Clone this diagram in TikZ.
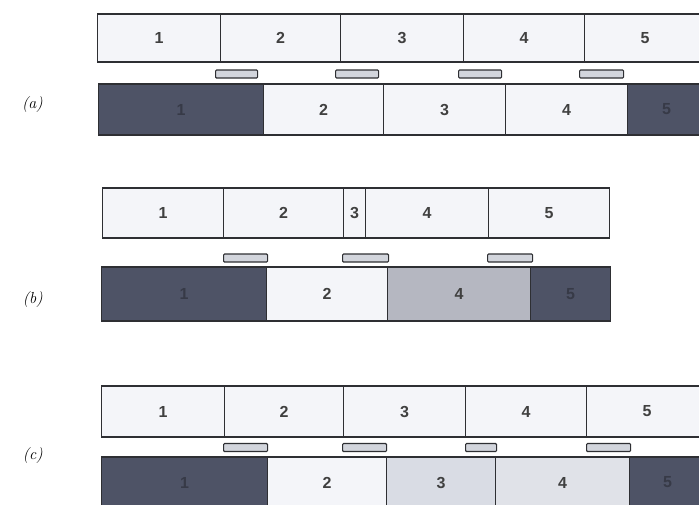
\documentclass[tikz,border=0pt]{standalone}
\usepackage{fontspec}
\usepackage{tikz}
\newfontfamily\cellfont{Liberation Sans}
\definecolor{cellline}{HTML}{2E2F33}
\definecolor{celllight}{HTML}{F4F5F9}
\definecolor{celldark}{HTML}{4E5366}
\definecolor{cellmid}{HTML}{B5B7C1}
\definecolor{cellpale}{HTML}{D9DCE4}
\definecolor{cellpaler}{HTML}{E0E2E8}
\definecolor{gapfill}{HTML}{D2D5DC}
\tikzset{
  cell/.style={draw=cellline, line width=1.2pt, fill=celllight, minimum height=50pt,
               font=\cellfont\bfseries\fontsize{16}{18}\selectfont, text=black!75,
               inner sep=0pt, anchor=west},
  darkcell/.style={cell, fill=celldark, text=celldark!70!black},
  midcell/.style={cell, fill=cellmid},
  palecell/.style={cell, fill=cellpale},
  palercell/.style={cell, fill=cellpaler},
  gapbar/.style={draw=cellline, line width=1.2pt, fill=gapfill, rounded corners=1pt,
                 minimum height=8pt, inner sep=0pt, anchor=west},
  rowlabel/.style={font=\itshape\fontsize{16}{19}\selectfont, anchor=east, inner sep=0pt},
}

\begin{document}
\begin{tikzpicture}[x=1pt, y=-1pt]
    \clip (0,0) rectangle (699,504);
    % (a)
    \node[rowlabel] (la) at (43, 105) {(a)};
    \node[cell, minimum width=123pt, minimum height=48pt] (ta1) at (97, 38) {1};
    \node[cell, minimum width=120pt, minimum height=48pt] (ta2) at (220, 38) {2};
    \node[cell, minimum width=123pt, minimum height=48pt] (ta3) at (340, 38) {3};
    \node[cell, minimum width=121pt, minimum height=48pt] (ta4) at (463, 38) {4};
    \node[cell, minimum width=121pt, minimum height=48pt] (ta5) at (584, 38) {5};
    \node[gapbar, minimum width=42pt] (ga1) at (215, 74) {};
    \node[gapbar, minimum width=43pt] (ga2) at (335, 74) {};
    \node[gapbar, minimum width=43pt] (ga3) at (458, 74) {};
    \node[gapbar, minimum width=44pt] (ga4) at (579, 74) {};
    \node[darkcell, minimum width=165pt, minimum height=51pt] (ba1) at (98, 109.5) {1};
    \node[cell, minimum width=120pt, minimum height=51pt] (ba2) at (263, 109.5) {2};
    \node[cell, minimum width=122pt, minimum height=51pt] (ba3) at (383, 109.5) {3};
    \node[cell, minimum width=122pt, minimum height=51pt] (ba4) at (505, 109.5) {4};
    \node[darkcell, minimum width=78pt, minimum height=51pt] (ba5) at (627, 109.5) {5};
    % (b)
    \node[rowlabel] (lb) at (43, 300) {(b)};
    \node[cell, minimum width=121pt] (tb1) at (102, 213) {1};
    \node[cell, minimum width=120pt] (tb2) at (223, 213) {2};
    \node[cell, minimum width=22pt] (tb3) at (343, 213) {3};
    \node[cell, minimum width=123pt] (tb4) at (365, 213) {4};
    \node[cell, minimum width=121pt] (tb5) at (488, 213) {5};
    \node[gapbar, minimum width=44pt] (gb1) at (223, 258) {};
    \node[gapbar, minimum width=46pt] (gb2) at (342, 258) {};
    \node[gapbar, minimum width=45pt] (gb3) at (487, 258) {};
    \node[darkcell, minimum width=165pt, minimum height=54pt] (bb1) at (101, 294) {1};
    \node[cell, minimum width=121pt, minimum height=54pt] (bb2) at (266, 294) {2};
    \node[midcell, minimum width=143pt, minimum height=54pt] (bb4) at (387, 294) {4};
    \node[darkcell, minimum width=80pt, minimum height=54pt] (bb5) at (530, 294) {5};
    % (c)
    \node[rowlabel] (lc) at (43, 456) {(c)};
    \node[cell, minimum width=123pt, minimum height=51pt] (tc1) at (101, 411.5) {1};
    \node[cell, minimum width=119pt, minimum height=51pt] (tc2) at (224, 411.5) {2};
    \node[cell, minimum width=122pt, minimum height=51pt] (tc3) at (343, 411.5) {3};
    \node[cell, minimum width=121pt, minimum height=51pt] (tc4) at (465, 411.5) {4};
    \node[cell, minimum width=121pt, minimum height=51pt] (tc5) at (586, 411.5) {5};
    \node[gapbar, minimum width=44pt] (gc1) at (223, 447.5) {};
    \node[gapbar, minimum width=44pt] (gc2) at (342, 447.5) {};
    \node[gapbar, minimum width=31pt] (gc3) at (465, 447.5) {};
    \node[gapbar, minimum width=44pt] (gc4) at (586, 447.5) {};
    \node[darkcell, minimum width=166pt, minimum height=51pt] (bc1) at (101, 482.5) {1};
    \node[cell, minimum width=119pt, minimum height=51pt] (bc2) at (267, 482.5) {2};
    \node[palecell, minimum width=109pt, minimum height=51pt] (bc3) at (386, 482.5) {3};
    \node[palercell, minimum width=134pt, minimum height=51pt] (bc4) at (495, 482.5) {4};
    \node[darkcell, minimum width=76pt, minimum height=51pt] (bc5) at (629, 482.5) {5};
\end{tikzpicture}
\end{document}
